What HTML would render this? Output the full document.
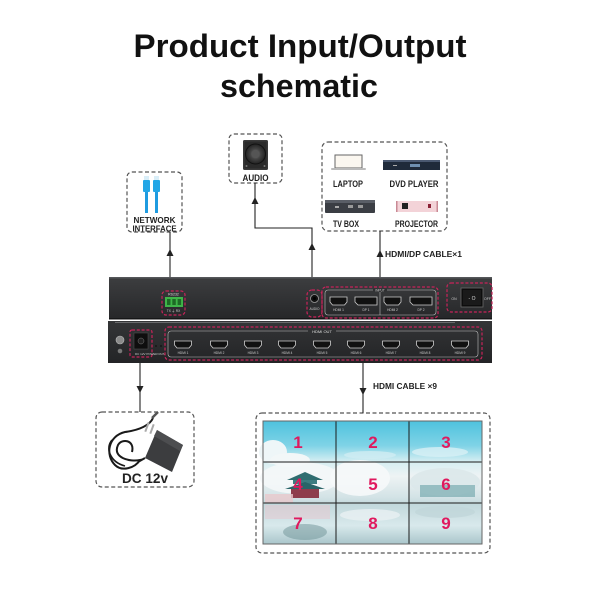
<!DOCTYPE html>
<html><head><meta charset="utf-8"><style>
html,body{margin:0;padding:0;background:#fff;}
svg{display:block;}
text{font-family:"Liberation Sans",sans-serif;}
</style></head><body>
<svg width="600" height="600" viewBox="0 0 600 600" xmlns="http://www.w3.org/2000/svg">
<defs>
<linearGradient id="up" x1="0" y1="0" x2="0" y2="1"><stop offset="0" stop-color="#3d3e40"/><stop offset="1" stop-color="#262729"/></linearGradient>
<linearGradient id="lo" x1="0" y1="0" x2="0" y2="1"><stop offset="0" stop-color="#343537"/><stop offset="1" stop-color="#232426"/></linearGradient>
<linearGradient id="wall" x1="0" y1="0" x2="0" y2="1">
<stop offset="0" stop-color="#4ec2de"/><stop offset="0.2" stop-color="#7fd3e6"/><stop offset="0.33" stop-color="#d6eef2"/>
<stop offset="0.45" stop-color="#eef3f4"/><stop offset="0.62" stop-color="#d3e3e6"/><stop offset="0.68" stop-color="#c2d8dc"/>
<stop offset="0.85" stop-color="#d8e9ec"/><stop offset="1" stop-color="#aac6cb"/></linearGradient>
<radialGradient id="cone" cx="0.5" cy="0.5" r="0.5"><stop offset="0" stop-color="#888"/><stop offset="0.5" stop-color="#444"/><stop offset="1" stop-color="#222"/></radialGradient>
</defs>

<!-- Title -->
<text x="300" y="57" text-anchor="middle" font-size="32" font-weight="bold" fill="#111" textLength="333" lengthAdjust="spacingAndGlyphs">Product Input/Output</text>
<text x="299" y="97" text-anchor="middle" font-size="32" font-weight="bold" fill="#111" textLength="158" lengthAdjust="spacingAndGlyphs">schematic</text>

<!-- Dashed boxes -->
<g fill="none" stroke="#555" stroke-width="1.2" stroke-dasharray="4 2.5">
<rect x="127" y="172" width="55" height="60" rx="5"/>
<rect x="229" y="134" width="53" height="49" rx="5"/>
<rect x="322" y="142" width="125" height="89" rx="6"/>
<rect x="96" y="412" width="98" height="75" rx="6"/>
<rect x="256" y="413" width="234" height="140" rx="6"/>
</g>

<!-- Network cables -->
<g>
<rect x="144" y="176" width="5" height="4" fill="#d9eef8"/>
<rect x="154" y="176" width="5" height="4" fill="#d9eef8"/>
<rect x="143" y="180" width="7" height="12" rx="1" fill="#22a6e6"/>
<rect x="153" y="180" width="7" height="12" rx="1" fill="#22a6e6"/>
<rect x="145" y="192" width="3" height="21" fill="#1f9be0"/>
<rect x="155" y="192" width="3" height="21" fill="#1f9be0"/>
</g>
<text x="154.5" y="223" text-anchor="middle" font-size="8.5" font-weight="bold" fill="#222" textLength="42" lengthAdjust="spacingAndGlyphs">NETWORK</text>
<text x="154.5" y="231.5" text-anchor="middle" font-size="8.5" font-weight="bold" fill="#222" textLength="44" lengthAdjust="spacingAndGlyphs">INTERFACE</text>

<!-- Speaker -->
<rect x="243" y="140" width="25" height="30" rx="1.5" fill="#3a3a3a"/>
<rect x="244.5" y="141.5" width="22" height="27" fill="#2a2a2a"/>
<circle cx="255.5" cy="154" r="10" fill="url(#cone)" stroke="#111" stroke-width="1"/>
<circle cx="255.5" cy="154" r="3.5" fill="#555"/>
<circle cx="246.5" cy="166" r="1" fill="#777"/><circle cx="264.5" cy="166" r="1" fill="#777"/>
<text x="255.5" y="181" text-anchor="middle" font-size="9" font-weight="bold" fill="#222" textLength="26" lengthAdjust="spacingAndGlyphs">AUDIO</text>

<!-- Devices -->
<rect x="335" y="155" width="27" height="13" fill="#fbf7f0" stroke="#666" stroke-width="1"/>
<rect x="331" y="168" width="35" height="2" rx="1" fill="#bbb"/>
<text x="348" y="187" text-anchor="middle" font-size="9" font-weight="bold" fill="#222" textLength="30" lengthAdjust="spacingAndGlyphs">LAPTOP</text>
<rect x="383" y="160" width="57" height="10" fill="#1f2a3a"/>
<rect x="383" y="160" width="57" height="2" fill="#4a5870"/>
<rect x="410" y="164" width="10" height="3" fill="#6f8fb0"/>
<rect x="393" y="165" width="4" height="1" fill="#aaa"/>
<text x="414" y="187" text-anchor="middle" font-size="9" font-weight="bold" fill="#222" textLength="49" lengthAdjust="spacingAndGlyphs">DVD PLAYER</text>
<rect x="325" y="200" width="50" height="13" rx="1" fill="#3b3e44"/>
<rect x="325" y="200" width="50" height="3" fill="#5a5e66"/>
<rect x="335" y="206" width="4" height="2" fill="#aaa"/><rect x="348" y="205" width="5" height="3" fill="#999"/><rect x="358" y="205" width="5" height="3" fill="#999"/>
<text x="346" y="227" text-anchor="middle" font-size="9" font-weight="bold" fill="#222" textLength="26" lengthAdjust="spacingAndGlyphs">TV  BOX</text>
<rect x="396" y="201" width="42" height="11" fill="#f3d3d8"/>
<rect x="396" y="201" width="1.5" height="11" fill="#c98a95"/><rect x="436.5" y="201" width="1.5" height="11" fill="#c98a95"/>
<rect x="402" y="203" width="6" height="6" fill="#222"/>
<rect x="428" y="204" width="3" height="4" fill="#8a2035"/>
<text x="416.5" y="227" text-anchor="middle" font-size="9" font-weight="bold" fill="#222" textLength="43" lengthAdjust="spacingAndGlyphs">PROJECTOR</text>

<!-- Connectors -->
<g stroke="#222" stroke-width="1.1" fill="none">
<line x1="170" y1="232" x2="170" y2="277"/>
<polyline points="255,183 255,228 312,228 312,277"/>
<line x1="380" y1="231" x2="380" y2="277"/>
<line x1="140" y1="363" x2="140" y2="412"/>
<line x1="363" y1="363" x2="363" y2="413"/>
</g>
<g fill="#222">
<polygon points="170,249 166.5,256 173.5,256"/>
<polygon points="255,197 251.5,204 258.5,204"/>
<polygon points="312,243 308.5,250 315.5,250"/>
<polygon points="380,250 376.5,257 383.5,257"/>
<polygon points="140,393 136.5,386 143.5,386"/>
<polygon points="363,395 359.5,388 366.5,388"/>
</g>
<text x="385" y="257" font-size="8.5" font-weight="bold" fill="#222" textLength="77" lengthAdjust="spacingAndGlyphs">HDMI/DP CABLE×1</text>
<text x="373" y="389" font-size="8.5" font-weight="bold" fill="#222" textLength="64" lengthAdjust="spacingAndGlyphs">HDMI CABLE ×9</text>

<!-- Device upper panel -->
<rect x="109" y="277" width="383" height="42" fill="url(#up)"/>
<rect x="109" y="277" width="383" height="1.5" fill="#55575a"/>
<rect x="109" y="318" width="383" height="1.5" fill="#151617"/>
<!-- RS232 -->
<rect x="162" y="291" width="23" height="24" rx="4" fill="none" stroke="#c8235a" stroke-width="1.2" stroke-dasharray="3 1.8"/>
<text x="173.5" y="295.5" text-anchor="middle" font-size="3.5" fill="#ddd">RS232</text>
<rect x="165" y="297" width="18" height="10" fill="#3fb549"/>
<rect x="167" y="299" width="3.5" height="6" fill="#1d6b25"/><rect x="172.3" y="299" width="3.5" height="6" fill="#1d6b25"/><rect x="177.6" y="299" width="3.5" height="6" fill="#1d6b25"/>
<text x="173.5" y="312" text-anchor="middle" font-size="3.2" fill="#ccc">TX  ⏚  RX</text>
<!-- audio jack -->
<rect x="307" y="290" width="15" height="27" rx="5" fill="none" stroke="#c8235a" stroke-width="1.2" stroke-dasharray="3 1.8"/>
<circle cx="314.5" cy="298.5" r="4" fill="#111" stroke="#999" stroke-width="0.8"/>
<circle cx="314.5" cy="298.5" r="1.5" fill="#000"/>
<text x="314.5" y="310" text-anchor="middle" font-size="3.2" fill="#ccc">AUDIO</text>
<!-- inputs -->
<rect x="322" y="287" width="116" height="31" rx="4" fill="none" stroke="#c8235a" stroke-width="1.2" stroke-dasharray="3 1.8"/>
<rect x="325" y="290" width="111" height="25" rx="3" fill="none" stroke="#bdbdbd" stroke-width="0.6"/>
<rect x="373" y="288.5" width="14" height="3" fill="#2f3032"/>
<text x="380" y="291.5" text-anchor="middle" font-size="3.2" fill="#ccc">INPUT</text>
<line x1="380" y1="292" x2="380" y2="315" stroke="#bdbdbd" stroke-width="0.6"/>
<g fill="#111" stroke="#d0d0d0" stroke-width="0.8">
<path d="M330,297 h17 v5 l-2.5,3 h-12 l-2.5,-3 z"/>
<path d="M355,297 h22 v8 h-19 l-3,-3 z"/>
<path d="M384,297 h17 v5 l-2.5,3 h-12 l-2.5,-3 z"/>
<path d="M410,297 h22 v8 h-19 l-3,-3 z"/>
</g>
<g font-size="3.2" fill="#ccc" text-anchor="middle">
<text x="338.5" y="311">HDMI 1</text><text x="366" y="311">DP 1</text><text x="392.5" y="311">HDMI 2</text><text x="421" y="311">DP 2</text>
</g>
<!-- switch -->
<rect x="447" y="283" width="45" height="29" rx="4" fill="none" stroke="#c8235a" stroke-width="1.2" stroke-dasharray="3 1.8"/>
<rect x="461" y="288" width="22" height="19" fill="#0d0d0d" stroke="#6a6a6a" stroke-width="0.8"/>
<rect x="463" y="290" width="18" height="15" fill="#1a1a1a"/>
<text x="472" y="300" text-anchor="middle" font-size="5" fill="#ddd">- O</text>
<text x="454" y="300" text-anchor="middle" font-size="3.5" fill="#ccc">ON</text>
<text x="487.5" y="300" text-anchor="middle" font-size="3.5" fill="#ccc">OFF</text>

<!-- Device lower panel -->
<rect x="108" y="321" width="384" height="42" fill="url(#lo)"/>
<rect x="115" y="322" width="340" height="1" fill="#6a6b6d"/>
<circle cx="120" cy="340" r="4" fill="#8a8a8a" stroke="#bbb" stroke-width="0.6"/>
<circle cx="120" cy="351" r="2.3" fill="#777"/>
<rect x="130" y="330" width="22" height="27" rx="2" fill="none" stroke="#c8235a" stroke-width="1.2" stroke-dasharray="3 1.8"/>
<rect x="134" y="333" width="14" height="16" fill="#0e0e0e" stroke="#555" stroke-width="0.5"/>
<circle cx="141" cy="341" r="3" fill="#222" stroke="#777" stroke-width="0.5"/>
<text x="150" y="355" font-size="3" fill="#ccc" text-anchor="middle">DC 12V POWER RUN</text>
<circle cx="156" cy="346" r="0.9" fill="#111"/><circle cx="161" cy="346" r="0.9" fill="#111"/>
<!-- HDMI OUT -->
<rect x="165" y="327" width="317" height="33" rx="4" fill="none" stroke="#c8235a" stroke-width="1.2" stroke-dasharray="3 1.8"/>
<rect x="168" y="331" width="310" height="26" rx="3" fill="none" stroke="#bdbdbd" stroke-width="0.6"/>
<rect x="308" y="329" width="28" height="4" fill="#303133"/>
<text x="322" y="333" text-anchor="middle" font-size="4" fill="#ddd">HDMI OUT</text>
<g fill="#111" stroke="#d0d0d0" stroke-width="0.8">
<path d="M174.5,341 h17 v4 l-2.5,3 h-12 l-2.5,-3 z"/>
<path d="M210.5,341 h17 v4 l-2.5,3 h-12 l-2.5,-3 z"/>
<path d="M244.5,341 h17 v4 l-2.5,3 h-12 l-2.5,-3 z"/>
<path d="M278.5,341 h17 v4 l-2.5,3 h-12 l-2.5,-3 z"/>
<path d="M313.5,341 h17 v4 l-2.5,3 h-12 l-2.5,-3 z"/>
<path d="M347.5,341 h17 v4 l-2.5,3 h-12 l-2.5,-3 z"/>
<path d="M382.5,341 h17 v4 l-2.5,3 h-12 l-2.5,-3 z"/>
<path d="M416.5,341 h17 v4 l-2.5,3 h-12 l-2.5,-3 z"/>
<path d="M451.5,341 h17 v4 l-2.5,3 h-12 l-2.5,-3 z"/>
</g>
<g font-size="3.2" fill="#ccc" text-anchor="middle">
<text x="183" y="354">HDMI 1</text><text x="219" y="354">HDMI 2</text><text x="253" y="354">HDMI 3</text><text x="287" y="354">HDMI 4</text><text x="322" y="354">HDMI 5</text><text x="356" y="354">HDMI 6</text><text x="391" y="354">HDMI 7</text><text x="425" y="354">HDMI 8</text><text x="460" y="354">HDMI 9</text>
</g>

<!-- Adapter -->
<path d="M153,418 C150,425 140,430 125,432 C108,436 105,455 115,465 C122,472 135,468 140,460 C130,462 112,458 118,445 C122,438 135,440 132,452" fill="none" stroke="#1a1a1a" stroke-width="2"/>
<path d="M112,440 C105,448 110,462 125,466" fill="none" stroke="#1a1a1a" stroke-width="1.6"/>
<line x1="152" y1="418" x2="158" y2="412" stroke="#555" stroke-width="2.5"/>
<rect x="146" y="422" width="2" height="10" fill="#aaa" transform="rotate(20 147 427)"/>
<rect x="151" y="424" width="2" height="10" fill="#aaa" transform="rotate(20 152 429)"/>
<polygon points="157,430 183,445 172,472 145,458" fill="#3c3d3f"/>
<polygon points="157,430 183,445 180,451 154,436" fill="#4d4e50"/>
<line x1="145" y1="458" x2="138" y2="462" stroke="#1a1a1a" stroke-width="2"/>
<text x="145" y="483" text-anchor="middle" font-size="14" font-weight="bold" fill="#222" textLength="46" lengthAdjust="spacingAndGlyphs">DC 12v</text>

<!-- Video wall -->
<rect x="263" y="421" width="219" height="123" fill="url(#wall)"/>
<ellipse cx="273" cy="452" rx="14" ry="12" fill="#eef6f8"/>
<ellipse cx="290" cy="460" rx="20" ry="7" fill="#f2f7f8"/>
<ellipse cx="440" cy="452" rx="28" ry="5" fill="#d8f0f5" opacity="0.8"/>
<ellipse cx="370" cy="455" rx="26" ry="4" fill="#cfecf3" opacity="0.8"/>
<ellipse cx="300" cy="478" rx="40" ry="16" fill="#f4f7f8" opacity="0.9"/>
<ellipse cx="360" cy="478" rx="30" ry="18" fill="#f6f8f9" opacity="0.9"/>
<ellipse cx="445" cy="482" rx="35" ry="14" fill="#dbe8ea" opacity="0.9"/>
<polygon points="287,480 305,472 323,480" fill="#2f6d70"/>
<rect x="293" y="480" width="24" height="4" fill="#3d7c80"/>
<polygon points="285,489 305,482 325,489" fill="#2a6468"/>
<rect x="291" y="489" width="28" height="9" fill="#8e3d4c"/>
<rect x="265" y="494" width="28" height="9" fill="#e8c8cc" opacity="0.8"/>
<rect x="420" y="485" width="55" height="12" fill="#5f9aa0" opacity="0.55"/>
<rect x="265" y="505" width="65" height="14" fill="#e6c9cf" opacity="0.55"/>
<ellipse cx="305" cy="532" rx="22" ry="8" fill="#6e9196" opacity="0.5"/>
<ellipse cx="370" cy="515" rx="30" ry="6" fill="#e9f0f2" opacity="0.8"/>
<ellipse cx="445" cy="512" rx="30" ry="6" fill="#c0d6da" opacity="0.8"/>
<g stroke="#1b1b1b" stroke-width="1">
<line x1="336" y1="421" x2="336" y2="544"/>
<line x1="409" y1="421" x2="409" y2="544"/>
<line x1="263" y1="462" x2="482" y2="462"/>
<line x1="263" y1="503" x2="482" y2="503"/>
</g>
<rect x="263" y="421" width="219" height="123" fill="none" stroke="#666" stroke-width="1"/>
<g font-size="17" font-weight="bold" fill="#e0195e" text-anchor="middle">
<text x="298" y="448">1</text><text x="373" y="448">2</text><text x="446" y="448">3</text>
<text x="298" y="490">4</text><text x="373" y="490">5</text><text x="446" y="490">6</text>
<text x="298" y="529">7</text><text x="373" y="529">8</text><text x="446" y="529">9</text>
</g>
</svg>
</body></html>
